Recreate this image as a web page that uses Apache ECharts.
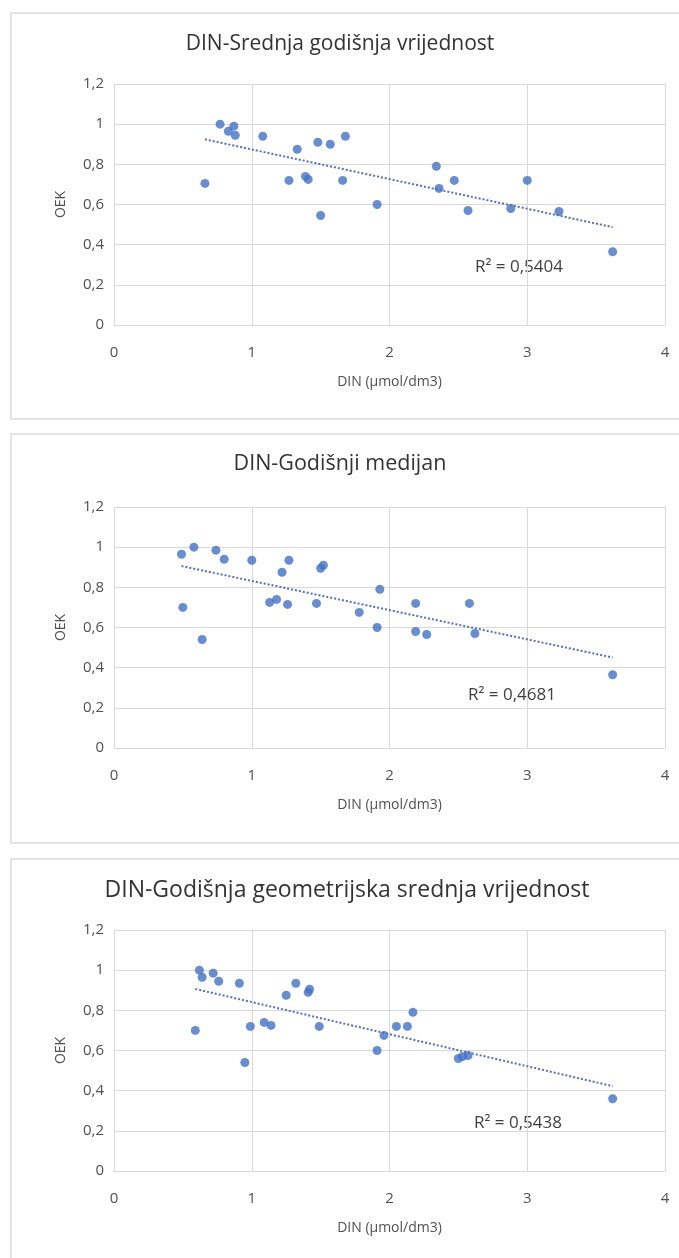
<!DOCTYPE html>
<html>
<head>
<meta charset="utf-8">
<script src="https://cdn.jsdelivr.net/npm/echarts@6/dist/echarts.min.js"></script>
<style>
  html, body { margin: 0; padding: 0; background: #ffffff; }
  #chart { width: 679px; height: 1258px; }
</style>
</head>
<body>
<div id="chart"></div>
<script>
// Panel titles
const titles = [
  'DIN-Srednja godišnja vrijednost',
  'DIN-Godišnji medijan',
  'DIN-Godišnja geometrijska srednja vrijednost'
];
const r2Labels = ['R² = 0,5404', 'R² = 0,4681', 'R² = 0,5438'];

// Annual mean DIN (µmol/dm3) vs OEK
const meanDin = [0.66, 0.77, 0.83, 0.87, 0.88, 1.08, 1.27, 1.33, 1.39, 1.41, 1.48, 1.50,
                 1.57, 1.66, 1.68, 1.91, 2.34, 2.36, 2.47, 2.57, 2.88, 3.00, 3.23, 3.62];
const meanOek = [0.705, 1.00, 0.965, 0.99, 0.945, 0.94, 0.72, 0.875, 0.74, 0.725, 0.91, 0.545,
                 0.90, 0.72, 0.94, 0.60, 0.79, 0.68, 0.72, 0.57, 0.58, 0.72, 0.565, 0.365];

// Annual median DIN vs OEK
const medianDin = [0.49, 0.50, 0.58, 0.64, 0.74, 0.80, 1.00, 1.13, 1.18, 1.22, 1.26, 1.27,
                   1.47, 1.50, 1.52, 1.78, 1.91, 1.93, 2.19, 2.19, 2.27, 2.58, 2.62, 3.62];
const medianOek = [0.965, 0.70, 1.00, 0.54, 0.985, 0.94, 0.935, 0.725, 0.74, 0.875, 0.715, 0.935,
                   0.72, 0.895, 0.91, 0.675, 0.60, 0.79, 0.72, 0.58, 0.565, 0.72, 0.57, 0.365];

// Annual geometric mean DIN vs OEK
const geoDin = [0.59, 0.62, 0.64, 0.72, 0.76, 0.91, 0.95, 0.99, 1.09, 1.14, 1.25, 1.32,
                1.41, 1.42, 1.49, 1.91, 1.96, 2.05, 2.13, 2.17, 2.50, 2.53, 2.57, 3.62];
const geoOek = [0.70, 1.00, 0.965, 0.985, 0.945, 0.935, 0.54, 0.72, 0.74, 0.725, 0.875, 0.935,
                0.89, 0.905, 0.72, 0.60, 0.675, 0.72, 0.72, 0.79, 0.56, 0.57, 0.575, 0.36];

const panels = [
  { x: meanDin, y: meanOek },
  { x: medianDin, y: medianOek },
  { x: geoDin, y: geoOek }
];

// Layout of the three stacked panels (px)
const gridTops = [84, 507, 930];
const gridHeight = 241;
const boxes = [
  { y: 13, h: 406 },
  { y: 434, h: 409 },
  { y: 859, h: 420 }
];
const titleY = [44, 464, 890];
const titleX = [340, 340, 347];
const titleSize = [21, 21.5, 23];
const r2Pos = [[519, 267], [512, 695], [518, 1123]];

const blue = '#4472C4';
const gridColor = '#d9d9d9';
const labelColor = '#505050';
const fontFamily = '"Open Sans", "Noto Sans", sans-serif';

// Least-squares line through a set of points
function fitLine(xs, ys) {
  const n = xs.length;
  let sx = 0, sy = 0, sxx = 0, sxy = 0;
  for (let i = 0; i < n; i++) {
    sx += xs[i]; sy += ys[i]; sxx += xs[i] * xs[i]; sxy += xs[i] * ys[i];
  }
  const b = (n * sxy - sx * sy) / (n * sxx - sx * sx);
  const a = (sy - b * sx) / n;
  const x0 = Math.min(...xs), x1 = Math.max(...xs);
  return [[x0, a + b * x0], [x1, a + b * x1]];
}

const commaFmt = v => String(v).replace('.', ',');

const grids = [], xAxes = [], yAxes = [], series = [], graphics = [];

panels.forEach((p, i) => {
  graphics.push({
    type: 'rect', silent: true, z: -10,
    shape: { x: 11, y: boxes[i].y, width: 700, height: boxes[i].h },
    style: { fill: '#ffffff', stroke: '#e3e3e3', lineWidth: 2 }
  });
  graphics.push({
    type: 'text', silent: true,
    style: {
      text: titles[i], x: titleX[i], y: titleY[i], align: 'center', verticalAlign: 'middle',
      fontSize: titleSize[i], fontFamily: fontFamily, fill: '#333333'
    }
  });
  graphics.push({
    type: 'text', silent: true,
    style: {
      text: r2Labels[i], x: r2Pos[i][0], y: r2Pos[i][1], align: 'center', verticalAlign: 'middle',
      fontSize: 17, fontFamily: fontFamily, fill: '#404040'
    }
  });

  grids.push({ left: 114, right: 14, top: gridTops[i], height: gridHeight });

  xAxes.push({
    type: 'value', gridIndex: i, min: 0, max: 4, interval: 1,
    name: 'DIN (µmol/dm3)', nameLocation: 'middle', nameGap: 50,
    nameTextStyle: { color: labelColor, fontSize: 14, fontFamily: fontFamily },
    axisLine: { show: true, lineStyle: { color: gridColor } },
    axisTick: { show: false },
    axisLabel: { color: labelColor, fontSize: 15, fontFamily: fontFamily, margin: 20 },
    splitLine: { show: true, lineStyle: { color: gridColor } }
  });

  yAxes.push({
    type: 'value', gridIndex: i, min: 0, max: 1.2, interval: 0.2,
    name: 'OEK', nameLocation: 'middle', nameGap: 46, nameRotate: 90,
    nameTextStyle: { color: labelColor, fontSize: 14, fontFamily: fontFamily },
    axisLine: { show: false },
    axisTick: { show: false },
    axisLabel: { color: labelColor, fontSize: 15, fontFamily: fontFamily, margin: 10,
                 formatter: v => commaFmt(Math.round(v * 10) / 10) },
    splitLine: { show: true, lineStyle: { color: gridColor } }
  });

  series.push({
    type: 'scatter', xAxisIndex: i, yAxisIndex: i,
    data: p.x.map((v, k) => [v, p.y[k]]),
    symbolSize: 9,
    itemStyle: { color: blue },
    z: 3
  });

  series.push({
    type: 'line', xAxisIndex: i, yAxisIndex: i,
    data: fitLine(p.x, p.y),
    symbol: 'none',
    lineStyle: { color: '#5470b8', width: 2, type: [2, 2] },
    z: 2
  });
});

const chart = echarts.init(document.getElementById('chart'), null, { renderer: 'canvas' });
chart.setOption({
  animation: false,
  backgroundColor: '#ffffff',
  grid: grids,
  xAxis: xAxes,
  yAxis: yAxes,
  series: series,
  graphic: graphics
});
</script>
</body>
</html>
